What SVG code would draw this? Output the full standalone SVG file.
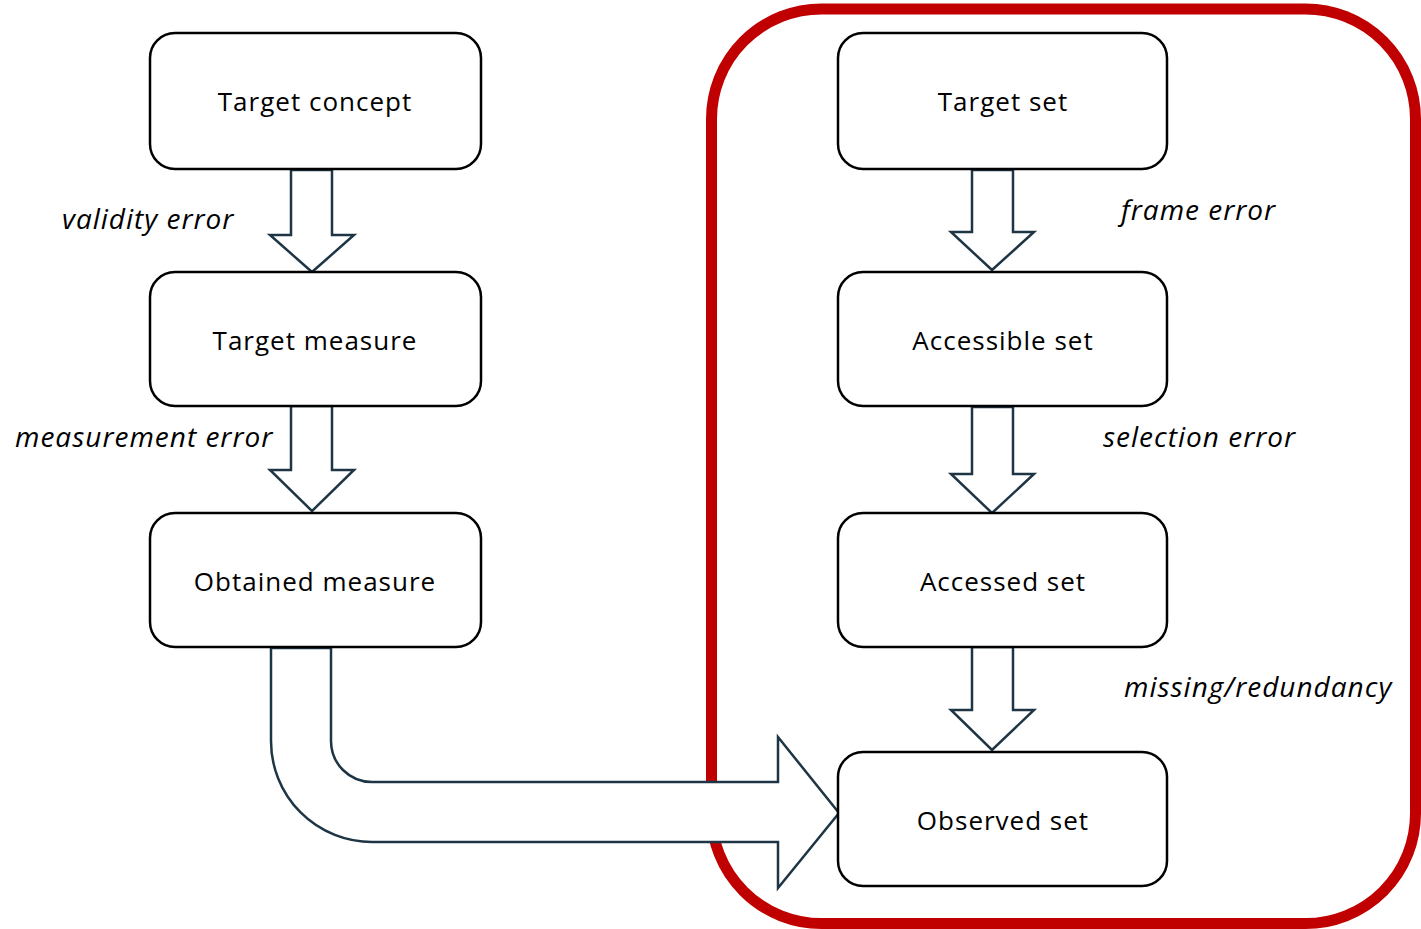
<svg xmlns="http://www.w3.org/2000/svg" width="1421" height="929" viewBox="0 0 1421 929">
<style>
.box{fill:#fff;stroke:#000;stroke-width:2.5}
.arr{fill:#fff;stroke:#1e3545;stroke-width:2.5;stroke-linejoin:miter}
.t{font-family:"Open Sans","Noto Sans",sans-serif;font-size:26px;fill:#000;text-anchor:middle;letter-spacing:1px}
.lbl{font-family:"Open Sans","Noto Sans",sans-serif;font-size:28px;font-style:italic;fill:#000;letter-spacing:1px}
</style>
<rect width="1421" height="929" fill="#fff"/>
<g id="frame">
<rect x="711.5" y="9" width="704" height="914.5" rx="110" ry="110" fill="none" stroke="#c00000" stroke-width="11"/>
</g>
<g id="connectors">
<path class="arr" d="M291 170 V235 H270 L312 272 L354 235 H332 V170 Z"/>
<path class="arr" d="M291 406 V470 H270 L312 511 L354 470 H332 V406 Z"/>
<path class="arr" d="M972 170 V232 H951 L992 270 L1034 232 H1013 V170 Z"/>
<path class="arr" d="M972 407 V474 H951 L992 513 L1034 474 H1013 V407 Z"/>
<path class="arr" d="M972 647 V710 H951 L992 750 L1034 710 H1013 V647 Z"/>
<path class="arr" d="M271 648 V741 A101 101 0 0 0 372 842 H778 V888 L839 813 L778 737 V782 H372 A41 41 0 0 1 331 741 V648 Z"/>
</g>
<g id="n1"><rect class="box" x="150" y="33" width="331" height="136" rx="25"/><text class="t" x="315" y="111">Target concept</text></g>
<g id="n2"><rect class="box" x="150" y="272" width="331" height="134" rx="25"/><text class="t" x="315" y="350">Target measure</text></g>
<g id="n3"><rect class="box" x="150" y="513" width="331" height="134" rx="25"/><text class="t" x="315" y="591">Obtained measure</text></g>
<g id="n4"><rect class="box" x="838" y="33" width="329" height="136" rx="25"/><text class="t" x="1003" y="111">Target set</text></g>
<g id="n5"><rect class="box" x="838" y="272" width="329" height="134" rx="25"/><text class="t" x="1003" y="350">Accessible set</text></g>
<g id="n6"><rect class="box" x="838" y="513" width="329" height="134" rx="25"/><text class="t" x="1003" y="591">Accessed set</text></g>
<g id="n7"><rect class="box" x="838" y="752" width="329" height="134" rx="25"/><text class="t" x="1003" y="830">Observed set</text></g>
<g id="labels">
<text class="lbl" x="62" y="229">validity error</text>
<text class="lbl" x="15" y="447">measurement error</text>
<text class="lbl" x="1121" y="220">frame error</text>
<text class="lbl" x="1103" y="447">selection error</text>
<text class="lbl" x="1124" y="697">missing/redundancy</text>
</g>
</svg>
